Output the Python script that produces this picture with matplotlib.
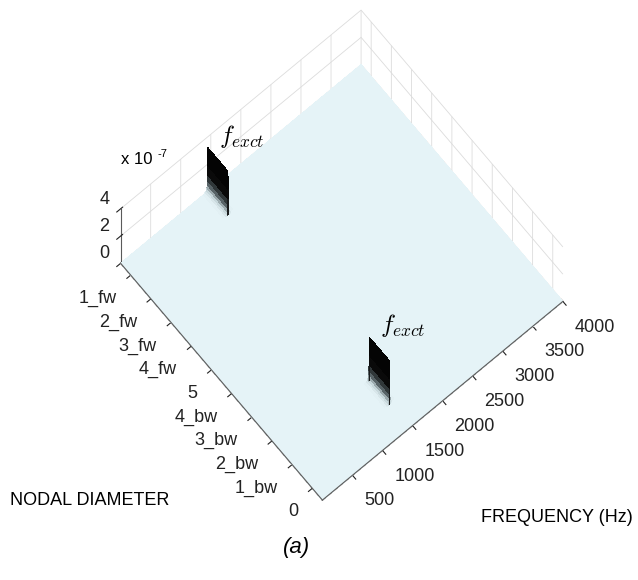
import numpy as np
import matplotlib
matplotlib.use("Agg")
import matplotlib.pyplot as plt
from matplotlib.colors import LinearSegmentedColormap, Normalize
from matplotlib.transforms import offset_copy

plt.rcParams["font.family"] = ["Liberation Sans", "DejaVu Sans"]
plt.rcParams["mathtext.fontset"] = "cm"

# nodal diameters along the y axis (backward, standing, forward)
nd_labels = ["0", "1_bw", "2_bw", "3_bw", "4_bw", "5", "4_fw", "3_fw", "2_fw", "1_fw"]
freq_ticks = [500, 1000, 1500, 2000, 2500, 3000, 3500, 4000]
z_ticks = [0.0, 2e-7, 4e-7]

# frequency samples of the response spectrum (Hz)
freq = [0, 1360, 1410, 1425, 1435, 1441, 1445, 1447, 1448.5, 1450,
        1451.5, 1453, 1455, 1459, 1465, 1475, 1490, 1540, 4000]
# response amplitude at the two excited nodal diameters
amp_1bw = [0, 0, 0.06e-7, 0.15e-7, 0.3e-7, 0.5e-7, 0.8e-7, 1.2e-7, 1.9e-7, 3.2e-7,
           1.9e-7, 1.2e-7, 0.8e-7, 0.5e-7, 0.3e-7, 0.15e-7, 0.06e-7, 0, 0]
amp_1fw = [0, 0, 0.06e-7, 0.15e-7, 0.3e-7, 0.5e-7, 0.8e-7, 1.2e-7, 1.9e-7, 3.2e-7,
           1.9e-7, 1.2e-7, 0.8e-7, 0.5e-7, 0.3e-7, 0.15e-7, 0.06e-7, 0, 0]
excited = {"1_bw": amp_1bw, "1_fw": amp_1fw}

z_top = 4e-7

# amplitude per nodal-diameter cell, then stepped rows so each diameter is a flat strip
n_nd = len(nd_labels)
z_cell = np.zeros((n_nd, len(freq)))
for name, amp in excited.items():
    z_cell[nd_labels.index(name)] = amp
edges = np.arange(n_nd + 1) - 0.5
y_nodes = np.column_stack([edges[:-1], edges[1:]]).ravel()
z_grid = np.repeat(z_cell, 2, axis=0)
F, Y = np.meshgrid(np.asarray(freq, float), y_nodes)

peak = z_cell.max()
cmap = LinearSegmentedColormap.from_list(
    "spec",
    [(0.0, "#e5f3f7"), (0.08, "#c3d3d7"), (0.22, "#4a5558"), (0.45, "#0b0b0b"), (1.0, "#000000")],
)

fig = plt.figure(figsize=(6.38, 5.8), dpi=100)
ax = fig.add_axes([0.0696, 0.098, 0.91, 0.9], projection="3d", proj_type="ortho")
ax.set_box_aspect((1, 1, 1), zoom=0.91 / 0.9)
ax.view_init(elev=80, azim=-130)
ax.computed_zorder = False

ax.plot_surface(F, Y, z_grid, rstride=1, cstride=1, cmap=cmap,
                norm=Normalize(0, peak), linewidth=0, antialiased=False, shade=False,
                zorder=1)

ax.set_xlim(0, 4000)
ax.set_ylim(edges[0], edges[-1])
ax.set_zlim(0, z_top)

# front edges of the floor, kept on top of the surface
x0, x1 = ax.get_xlim()
y0, y1 = ax.get_ylim()
ax.plot([x0, x1], [y0, y0], [0, 0], color="#5a5a5a", lw=0.8, zorder=3)
ax.plot([x0, x0], [y0, y1], [0, 0], color="#5a5a5a", lw=0.8, zorder=3)

ax.set_xticks(freq_ticks)
ax.set_xticklabels([str(v) for v in freq_ticks], ha="left")
ax.set_yticks(range(n_nd))
ax.set_yticklabels(nd_labels, ha="right")
ax.set_zticks(z_ticks)
ax.set_zticklabels([f"{v / 1e-7:.0f}" for v in z_ticks], ha="right", va="bottom")
ax.zaxis.set_tick_params(pad=-3)

for a in (ax.xaxis, ax.yaxis, ax.zaxis):
    a.set_pane_color((1, 1, 1, 0))
    a.pane.set_edgecolor("#d8d8d8")
    a._axinfo["grid"]["color"] = "#dcdcdc"
    a._axinfo["grid"]["linewidth"] = 0.6
    a.line.set_color("#5a5a5a")
    a.line.set_linewidth(0.8)
    a.label.set_visible(False)
    a.offsetText.set_visible(False)
ax.tick_params(labelsize=13, colors="#222222")
for t in (ax.title, ax._left_title, ax._right_title):
    t.set_visible(False)

# labels at the excitation peaks
for name, amp in excited.items():
    k = int(np.argmax(amp))
    tr = offset_copy(ax.transData, fig=fig, x=11, y=-2, units="dots")
    ax.text(freq[k], nd_labels.index(name) + 0.5, amp[k], r"$f_{exct}$",
            transform=tr, fontsize=18, ha="left", va="bottom", zorder=4)

fig.text(121 / 638, 1 - 164 / 580, "x 10", fontsize=12, ha="left", va="baseline")
fig.text(158 / 638, 1 - 157 / 580, "-7", fontsize=8, ha="left", va="baseline")
fig.text(10 / 638, 1 - 505 / 580, "NODAL DIAMETER", fontsize=13, ha="left", va="baseline")
fig.text(633 / 638, 1 - 522 / 580, "FREQUENCY (Hz)", fontsize=13, ha="right", va="baseline")
fig.text(297 / 638, 1 - 553 / 580, "(a)", fontsize=16, style="italic", ha="center", va="baseline")

fig.savefig("out.png", dpi=100)
